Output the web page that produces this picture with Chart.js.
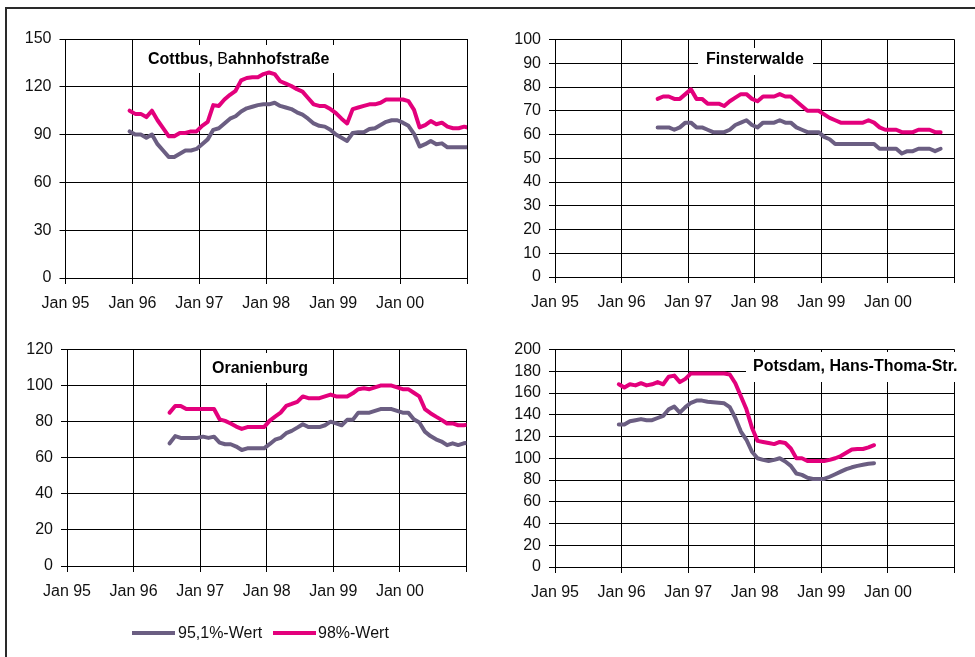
<!DOCTYPE html>
<html lang="de">
<head>
<meta charset="utf-8">
<title>95,1%- und 98%-Werte</title>
<script src="https://cdn.jsdelivr.net/npm/chart.js@4.4.1/dist/chart.umd.min.js"></script>
<style>
  html, body { margin: 0; padding: 0; background: #fff; }
  #page { position: relative; width: 975px; height: 657px; overflow: hidden; font-family: "Liberation Sans", Arial, sans-serif; }
  #page canvas { position: absolute; left: 0; top: 0; }
  #frame { position: absolute; left: 5px; top: 7px; width: 990px; height: 700px;
           border-top: 2px solid #2a2a2a; border-left: 2px solid #2a2a2a; }
  .lg-line { position: absolute; height: 4px; }
  .lg-text { position: absolute; font-size: 16px; color: #111; line-height: 16px; white-space: nowrap; }
</style>
</head>
<body>
<div id="page">
  <div id="frame"></div>
  <canvas id="c1" width="975" height="657"></canvas>
  <canvas id="c2" width="975" height="657"></canvas>
  <canvas id="c3" width="975" height="657"></canvas>
  <canvas id="c4" width="975" height="657"></canvas>
  <div class="lg-line" style="left:132px; top:631px; width:43px; background:#6b5e82;"></div>
  <div class="lg-text" style="left:178px; top:625px;">95,1%-Wert</div>
  <div class="lg-line" style="left:273px; top:631px; width:43px; background:#e3007c;"></div>
  <div class="lg-text" style="left:318px; top:625px;">98%-Wert</div>
</div>
<script>
// x axis: months counted from Jan 1995
const xTickLabels = ['Jan 95', 'Jan 96', 'Jan 97', 'Jan 98', 'Jan 99', 'Jan 00', ''];

// Cottbus, Bahnhofstraße (first value in mid Dec 1995)
const cottbusStart = 11.5;
const cottbus951 = [92, 90, 90, 88, 90, 84, 80, 76, 76, 78, 80, 80, 81, 84, 87, 93, 94, 97, 100, 101.5,
  104.5, 106.5, 107.5, 108.5, 109, 109, 110, 108, 107, 106, 104, 102.5, 100, 97, 95.5, 95, 93, 90, 88, 86,
  91, 91.5, 91.5, 93.5, 94, 96, 98, 99, 99, 97.5, 95.5, 90.5, 82.5, 84, 86, 84, 84.5, 82, 82, 82, 82, 82];
const cottbus98 = [105, 103, 103, 101, 105, 99, 94, 89, 89, 91, 91, 92, 92, 95.5, 98, 108.5, 108, 112, 115, 117.5,
  124, 125.5, 126, 126, 128, 129, 128, 123.5, 122, 120.5, 118.5, 117, 113, 109, 108, 108, 106, 103.5, 100, 97,
  106, 107, 108, 109, 109, 110, 112, 112, 112, 112, 111, 105.5, 94.5, 96, 98.5, 96.5, 97.5, 95, 94, 94, 95, 94];

// Finsterwalde (first value in mid Jul 1996)
const finsterStart = 18.5;
const finster951 = [63, 63, 63, 62, 63, 65, 65, 63, 63, 62, 61, 61, 61, 62, 64, 65, 66, 64, 63, 65,
  65, 65, 66, 65, 65, 63, 62, 61, 61, 61, 59, 58, 56, 56, 56, 56, 56, 56, 56, 56,
  54, 54, 54, 54, 52, 53, 53, 54, 54, 54, 53, 54];
const finster98 = [75, 76, 76, 75, 75, 77, 79, 75, 75, 73, 73, 73, 72, 74, 75.5, 77, 77, 75, 74, 76,
  76, 76, 77, 76, 76, 74, 72, 70, 70, 70, 68.5, 67, 66, 65, 65, 65, 65, 65, 66, 65,
  63, 62, 62, 62, 61, 61, 61, 62, 62, 62, 61, 61];

// Oranienburg (first value in mid Jul 1996)
const oranienStart = 18.5;
const oranien951 = [68, 72, 71, 71, 71, 71, 71.7, 71, 71.7, 68.4, 67.5, 67.5, 66.2, 64.3, 65.2, 65.2, 65.2, 65.2, 67.5, 70,
  71, 73.6, 74.9, 76.7, 78.6, 77, 77, 77, 78, 80, 79, 78, 81, 81, 85, 85, 85, 86, 87, 87,
  87, 86, 85, 85, 81.3, 79.5, 74.5, 72, 70.2, 69, 67, 68, 67, 68, 68.4];
const oranien98 = [85, 88.7, 88.7, 87, 87, 87, 87, 87, 87, 81.3, 80.4, 79, 77.3, 76, 77, 77, 77, 77, 80.4, 82.8,
  85, 88.7, 89.8, 91, 94, 93, 93, 93, 94, 95, 94, 94, 94, 95.7, 98, 98.5, 98, 99, 100, 100,
  100, 99, 98, 98, 96, 94, 87, 84.7, 82.8, 81, 79, 79, 78, 78, 78.5];

// Potsdam, Hans-Thoma-Str. (first value in mid Dec 1995)
const potsdamStart = 11.5;
const potsdam951 = [131, 131, 134, 135, 136, 135, 135, 137, 139, 145, 147.5, 142, 147, 151, 153, 153, 152, 151.5, 151, 150.5,
  147, 137, 124.5, 117, 106, 100, 98.5, 97.5, 98.5, 100, 97, 93, 86, 84.7, 82, 81, 81, 81, 83, 85.3,
  87.7, 90, 91.7, 93, 94, 95, 95.4];
const potsdam98 = [168, 165, 168, 167, 169, 167, 168, 170, 168, 175, 176, 170, 173, 178, 178, 178, 178, 178, 178, 178,
  177, 169, 157, 145, 128, 116, 115, 114, 113, 115, 114, 109, 100, 100, 97.5, 97.5, 97.5, 97.5, 98.5, 100,
  102, 105, 108, 108.5, 108.5, 110, 112];

const PURPLE = '#6b5e82';
const PINK = '#e3007c';
const FONT = '"Liberation Sans", Arial, Helvetica, sans-serif';
const PAGE_W = 975, PAGE_H = 657;

function monthly(start, values) {
  return values.map((v, i) => ({ x: start + i, y: v }));
}

// White label box with the station name, drawn over the grid
const panelTitle = {
  id: 'panelTitle',
  beforeDatasetsDraw(chart, args, opts) {
    const ctx = chart.ctx;
    ctx.save();
    ctx.fillStyle = '#fff';
    ctx.fillRect(opts.box[0], opts.box[1], opts.box[2], opts.box[3]);
    ctx.fillStyle = '#000';
    ctx.textBaseline = 'middle';
    ctx.textAlign = 'left';
    let x = opts.x;
    for (const part of opts.parts) {
      ctx.font = (part.bold ? 'bold ' : '') + '16px ' + FONT;
      ctx.fillText(part.text, x, opts.y);
      x += ctx.measureText(part.text).width;
    }
    ctx.restore();
  }
};

function panel(id, area, yMax, yStep, start, v951, v98, title) {
  const tickFont = { family: FONT, size: 16 };
  const grid = { color: '#000', lineWidth: 1, tickLength: 6, drawTicks: true };
  new Chart(document.getElementById(id), {
    type: 'line',
    data: {
      datasets: [
        { label: '95,1%-Wert', data: monthly(start, v951), borderColor: PURPLE, borderWidth: 4,
          pointRadius: 0, tension: 0, clip: 0, borderJoinStyle: 'round', borderCapStyle: 'round' },
        { label: '98%-Wert', data: monthly(start, v98), borderColor: PINK, borderWidth: 4,
          pointRadius: 0, tension: 0, clip: 0, borderJoinStyle: 'round', borderCapStyle: 'round' }
      ]
    },
    options: {
      responsive: false,
      animation: false,
      events: [],
      layout: { padding: { left: 0, top: area.t, right: PAGE_W - area.r, bottom: 0 } },
      plugins: { legend: { display: false }, tooltip: { enabled: false }, panelTitle: title },
      scales: {
        x: {
          type: 'linear', min: 0, max: 72,
          afterFit: s => { s.height = PAGE_H - area.b; },
          ticks: { stepSize: 12, autoSkip: false, maxRotation: 0, padding: 10, color: '#111', font: tickFont,
                   callback: v => xTickLabels[v / 12] },
          grid: grid,
          border: { color: '#000', width: 1 }
        },
        y: {
          min: 0, max: yMax,
          afterFit: s => { s.width = area.l; },
          ticks: { stepSize: yStep, autoSkip: false, padding: 8, color: '#111', font: tickFont },
          grid: grid,
          border: { color: '#000', width: 1 }
        }
      }
    },
    plugins: [panelTitle]
  });
}

panel('c1', { l: 65.5, t: 39, r: 467, b: 278 }, 150, 30, cottbusStart, cottbus951, cottbus98,
  { box: [142, 45, 196, 28], x: 148, y: 60,
    parts: [{ text: 'Cottbus, ', bold: true }, { text: 'B', bold: false }, { text: 'ahnhofstraße', bold: true }] });

panel('c2', { l: 555, t: 39.5, r: 954.5, b: 277 }, 100, 10, finsterStart, finster951, finster98,
  { box: [698, 48, 115, 27], x: 706, y: 60, parts: [{ text: 'Finsterwalde', bold: true }] });

panel('c3', { l: 67, t: 349.5, r: 466.5, b: 566 }, 120, 20, oranienStart, oranien951, oranien98,
  { box: [205, 353, 113, 30], x: 212, y: 369, parts: [{ text: 'Oranienburg', bold: true }] });

panel('c4', { l: 555, t: 349.5, r: 954.5, b: 567 }, 200, 20, potsdamStart, potsdam951, potsdam98,
  { box: [746, 352, 222, 30], x: 753, y: 367, parts: [{ text: 'Potsdam, Hans-Thoma-Str.', bold: true }] });
</script>
</body>
</html>
